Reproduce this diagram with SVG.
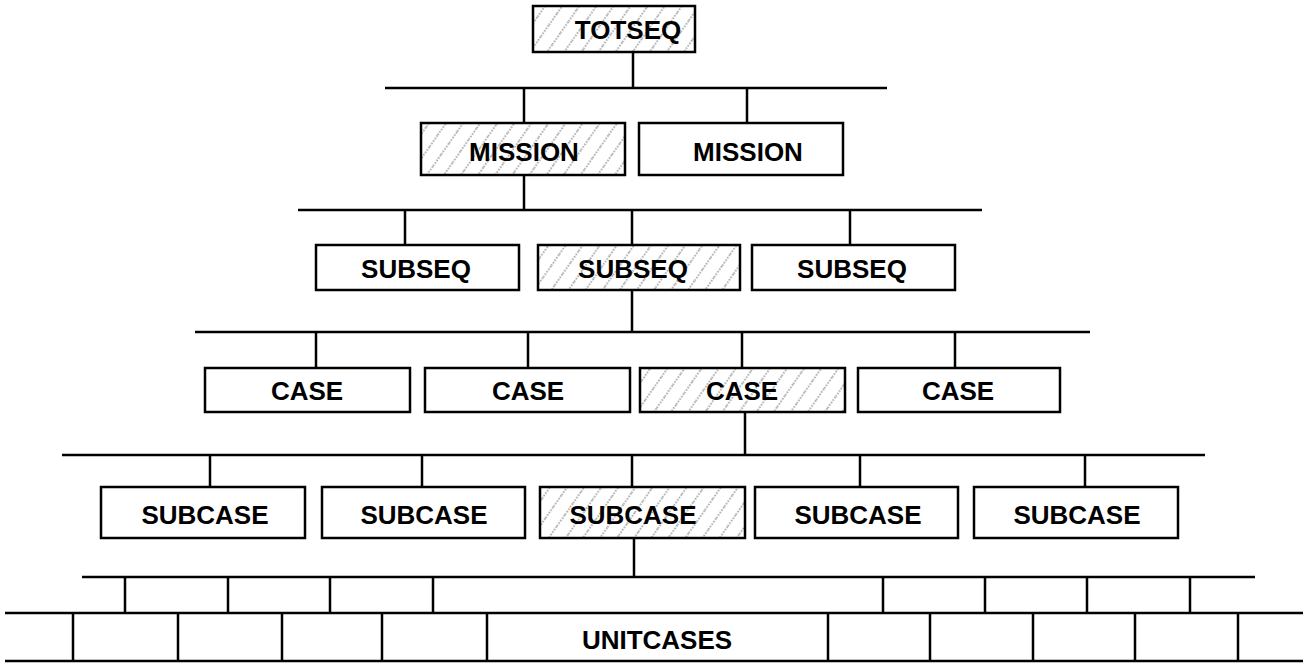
<svg xmlns="http://www.w3.org/2000/svg" width="1303" height="664" viewBox="0 0 1303 664">
<style>
.box{fill:#fff;stroke:#000;stroke-width:2.5}
.hbox{fill:url(#hatch);stroke:#000;stroke-width:2.5}
.ln{stroke:#000;stroke-width:2.5;fill:none}
.t{font-family:"Liberation Sans",Arial,sans-serif;font-weight:bold;font-size:26px;fill:#000;text-anchor:middle}
</style>
<defs>
<pattern id="hatch" patternUnits="userSpaceOnUse" width="14" height="14" patternTransform="rotate(35)">
<rect width="14" height="14" fill="#fff"/>
<line x1="2" y1="0" x2="2" y2="14" stroke="#888" stroke-width="1.4" stroke-dasharray="1.5 1.5"/>
</pattern>
</defs>
<rect width="1303" height="664" fill="#fff"/>
<g id="connectors">
<path class="ln" d="M633 52V88M385 88H887M524 88V123M747 88V123"/>
<path class="ln" d="M524 175V210M298 210H982M405 210V245M632 210V245M850 210V245"/>
<path class="ln" d="M632 290V332M195 332H1090M316 332V368M528 332V368M742 332V368M955 332V368"/>
<path class="ln" d="M745 412V455M62 455H1205M210 455V487M422 455V487M632 455V487M860 455V487M1085 455V487"/>
<path class="ln" d="M634 538V577M82 577H1255M125 577V613M228 577V613M330 577V613M433 577V613M883 577V613M985 577V613M1087 577V613M1190 577V613"/>
</g>
<g id="totseq"><rect class="hbox" x="533" y="6" width="162" height="46"/><text class="t" x="628" y="39">TOTSEQ</text></g>
<g id="mission1"><rect class="hbox" x="421" y="123" width="204" height="52"/><text class="t" x="524" y="161">MISSION</text></g>
<g id="mission2"><rect class="box" x="639" y="123" width="204" height="52"/><text class="t" x="748" y="161">MISSION</text></g>
<g id="subseq1"><rect class="box" x="316" y="245" width="203" height="45"/><text class="t" x="416" y="278">SUBSEQ</text></g>
<g id="subseq2"><rect class="hbox" x="538" y="245" width="202" height="45"/><text class="t" x="633" y="278">SUBSEQ</text></g>
<g id="subseq3"><rect class="box" x="752" y="245" width="203" height="45"/><text class="t" x="852" y="278">SUBSEQ</text></g>
<g id="case1"><rect class="box" x="205" y="368" width="205" height="44"/><text class="t" x="307" y="400">CASE</text></g>
<g id="case2"><rect class="box" x="425" y="368" width="205" height="44"/><text class="t" x="528" y="400">CASE</text></g>
<g id="case3"><rect class="hbox" x="640" y="368" width="205" height="44"/><text class="t" x="742" y="400">CASE</text></g>
<g id="case4"><rect class="box" x="858" y="368" width="202" height="44"/><text class="t" x="958" y="400">CASE</text></g>
<g id="subcase1"><rect class="box" x="101" y="487" width="204" height="51"/><text class="t" x="205" y="524">SUBCASE</text></g>
<g id="subcase2"><rect class="box" x="322" y="487" width="203" height="51"/><text class="t" x="424" y="524">SUBCASE</text></g>
<g id="subcase3"><rect class="hbox" x="540" y="487" width="205" height="51"/><text class="t" x="633" y="524">SUBCASE</text></g>
<g id="subcase4"><rect class="box" x="755" y="487" width="203" height="51"/><text class="t" x="858" y="524">SUBCASE</text></g>
<g id="subcase5"><rect class="box" x="974" y="487" width="204" height="51"/><text class="t" x="1077" y="524">SUBCASE</text></g>
<g id="unitcases">
<path class="ln" d="M5 613H1303M5 661H1303M73 613V661M178 613V661M282 613V661M382 613V661M487 613V661M828 613V661M930 613V661M1033 613V661M1135 613V661M1238 613V661"/>
<text class="t" x="657" y="649">UNITCASES</text>
</g>
</svg>
